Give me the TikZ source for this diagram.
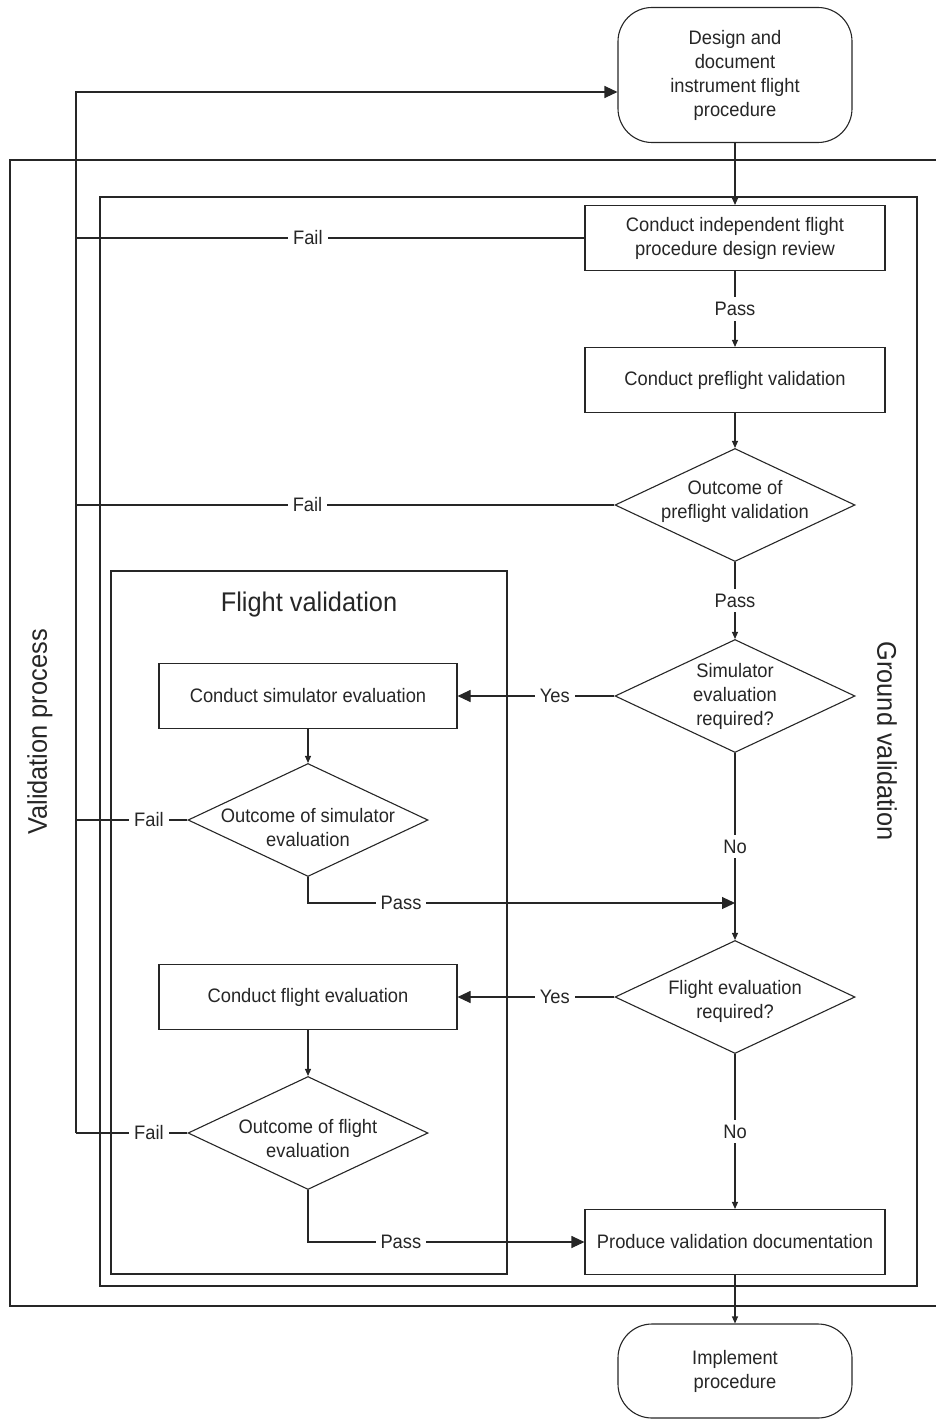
\documentclass[tikz,border=0pt]{standalone}
\usepackage{fontspec}
\setmainfont{Liberation Sans}[FakeStretch=0.94]
\usetikzlibrary{arrows.meta,shapes.geometric}

% move the lines of a node up or down without changing its size
\newcommand{\textshift}[2]{\raisebox{#1}[\height][\depth]{\begin{tabular}{@{}c@{}}#2\end{tabular}}}

\begin{document}
\begin{tikzpicture}[x=1pt, y=-1pt, ->, >={Triangle[length=7pt,width=6pt]},
    line width=1.1pt, color=black!85,
    every node/.style={font=\fontsize{19.5}{24}\selectfont, align=center},
    procbox/.style={rectangle, draw, minimum width=300pt, minimum height=65pt},
    decision/.style={diamond, draw, aspect=2.12, inner sep=-8pt,
                     minimum width=240pt, minimum height=113pt},
    terminal/.style={rectangle, draw, rounded corners=34pt, minimum width=234pt},
    frame/.style={-, line width=1.1pt},
    lbl/.style={fill=white, inner sep=5pt},
    bigtip/.style={-{Triangle[length=13pt,width=12pt]}},
    title/.style={font=\fontsize{27}{32}\selectfont}
    ]

    \useasboundingbox (0,0) rectangle (935,1420);

    % frames
    \draw[frame] (945,160) -- (10,160) -- (10,1306) -- (945,1306);
    \draw[frame] (100,197) rectangle (917,1286);
    \draw[frame] (111,571) rectangle (507,1274);

    \node[title, rotate=90] (vproc) at (40,732) {Validation process};
    \node[title, rotate=-90] (gval) at (887,741) {Ground validation};
    \node[title] (fval) at (309,605) {Flight validation};

    % ground validation column
    \node[terminal, minimum height=135pt] (design) at (735,75)
        {Design and\\document\\instrument flight\\procedure};
    \node[procbox] (review) at (735,238)
        {Conduct independent flight\\procedure design review};
    \node[procbox] (prefl) at (735,380) {Conduct preflight validation};
    \node[decision] (outpre) at (735,505) {\textshift{3pt}{Outcome of\\preflight validation}};
    \node[decision] (simreq) at (735,696) {Simulator\\evaluation\\required?};
    \node[decision] (flreq) at (735,997) {\textshift{-5pt}{Flight evaluation\\required?}};
    \node[procbox] (doc) at (735,1242) {Produce validation documentation};
    \node[terminal, minimum height=94pt] (impl) at (735,1371) {Implement\\procedure};

    % flight validation column
    \node[procbox, minimum width=298pt] (simeval) at (308,696) {Conduct simulator evaluation};
    \node[decision] (outsim) at (308,820) {\textshift{-10pt}{Outcome of simulator\\evaluation}};
    \node[procbox, minimum width=298pt] (fleval) at (308,997) {Conduct flight evaluation};
    \node[decision] (outfl) at (308,1133) {\textshift{-8pt}{Outcome of flight\\evaluation}};

    \coordinate (back) at (76,92);
    \coordinate (simpass) at (735,903);

    \path
    (design) edge (review)
    (review) edge node[lbl] {Pass} (prefl)
    (prefl) edge (outpre)
    (outpre) edge node[lbl] {Pass} (simreq)
    (simreq) edge node[lbl] {No} (flreq)
    (flreq) edge node[lbl] {No} (doc)
    (doc) edge (impl)
    (simeval) edge (outsim)
    (fleval) edge (outfl)
    (simreq.west) edge[bigtip] node[lbl, pos=0.38] {Yes} (simeval.east)
    (flreq.west) edge[bigtip] node[lbl, pos=0.38] {Yes} (fleval.east);

    % fail lines back to the design step
    \draw[-] (review.west) -- node[lbl, pos=0.544] {Fail} (review.west -| back);
    \draw[-] (outpre.west) -- node[lbl, pos=0.57] {Fail} (outpre.west -| back);
    \draw[-] (outsim.west) -- node[lbl, pos=0.345] {Fail} (outsim.west -| back);
    \draw[-] (outfl.west) -- node[lbl, pos=0.345] {Fail} (outfl.west -| back);
    \draw[bigtip] (outfl.west -| back) -- (back) -- (design.west |- back);

    \draw[bigtip] (outsim.south) |- node[lbl, pos=0.609] {Pass} (simpass);
    \draw[bigtip] (outfl.south) |- node[lbl, pos=0.668] {Pass} (doc.west);

\end{tikzpicture}
\end{document}
